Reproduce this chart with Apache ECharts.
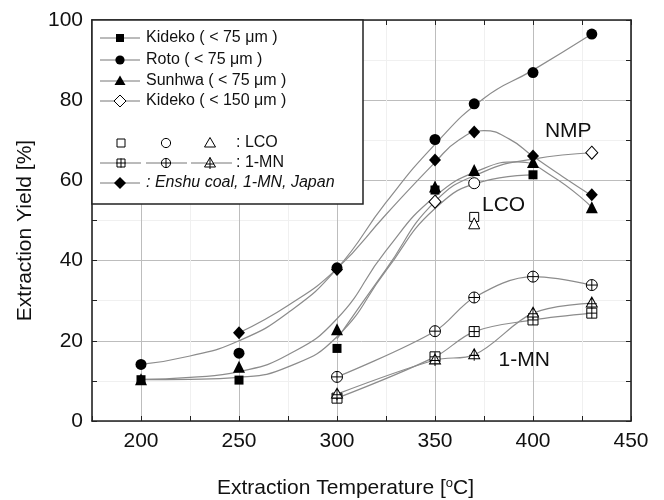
<!DOCTYPE html>
<html>
<head>
<meta charset="utf-8">
<script src="https://cdn.jsdelivr.net/npm/echarts@6.0.0/dist/echarts.min.js"></script>
<style>
  html, body { margin: 0; padding: 0; background: #fff; }
  #chart { width: 664px; height: 500px; }
</style>
</head>
<body>
<div id="chart"></div>
<script>
// ---- measured yields [temperature °C, yield %] ----
const kideko75  = [[200, 10.3], [250, 10.2], [300, 18.1], [350, 57.6], [400, 61.4]];
const roto75    = [[200, 14.1], [250, 16.9], [300, 38.2], [350, 70.2], [370, 79.1], [400, 86.9], [430, 96.5]];
const sunhwa75  = [[200, 10.4], [250, 13.5], [300, 22.9], [350, 58.5], [370, 62.6], [400, 64.6], [430, 53.3]];
const kideko150 = [[350, 54.7], [430, 66.9]];
const enshu     = [[250, 22.0], [300, 37.8], [350, 65.1], [370, 72.1], [400, 66.1], [430, 56.4]];

// LCO solvent (open symbols)
const lcoKideko = [[370, 50.9]];
const lcoRoto   = [[370, 59.3]];
const lcoSunhwa = [[370, 49.3]];

// 1-MN solvent (crossed symbols)
const mnKideko = [[300, 5.7], [350, 16.0], [370, 22.3], [400, 25.2], [430, 26.9]];
const mnRoto   = [[300, 11.0], [350, 22.4], [370, 30.8], [400, 36.0], [430, 33.9]];
const mnSunhwa = [[300, 6.7], [350, 15.2], [370, 16.5], [400, 26.9], [430, 29.4]];

// ---- fitted trend curves (NMP) ----
const fitRoto      = [[200, 14.1], [225, 16.2], [250, 20.0], [275, 27.0], [300, 38.0], [325, 54.5], [350, 69.0], [375, 80.5], [400, 87.5], [430, 96.5]];
const fitEnshu     = [[250, 22.0], [275, 28.8], [300, 38.0], [325, 51.5], [350, 64.5], [362, 70.0], [375, 72.4], [388, 70.3], [400, 66.0], [415, 61.0], [430, 56.2]];
const fitSunhwa    = [[200, 10.4], [225, 10.9], [250, 12.3], [275, 16.5], [300, 25.5], [325, 42.5], [350, 56.0], [375, 63.0], [392, 64.6], [410, 61.0], [430, 53.3]];
const fitKideko75  = [[200, 10.3], [225, 10.4], [250, 10.9], [275, 13.5], [300, 21.0], [325, 37.5], [350, 53.0], [375, 59.8], [400, 61.4]];
const fitKideko150 = [[300, 20.5], [325, 37.8], [350, 54.7], [375, 62.2], [400, 65.3], [430, 66.9]];

// ---- axis ticks ----
const xTicks = [200, 250, 300, 350, 400, 450];
const yTicks = [0, 20, 40, 60, 80, 100];

// ---- in-plot labels [temperature, yield, text] ----
const notes = [[418, 72.3, 'NMP'], [385, 53.9, 'LCO'], [395.5, 15.2, '1-MN']];

const FONT = '"Liberation Sans", Arial, sans-serif';
const INK = '#000';
const CURVE = '#8c8c8c';

const SQ_PLUS   = 'path://M0,0L10,0L10,10L0,10Z M5,0L5,10 M0,5L10,5';
const CIRC_PLUS = 'path://M10,5A5,5,0,1,1,0,5A5,5,0,1,1,10,5Z M5,0L5,10 M0,5L10,5';
const TRI_PLUS  = 'path://M5,0L10,9L0,9Z M5,0L5,11 M0.5,6L9.5,6';

function points(name, data, symbol, size, hollow) {
  return {
    name, type: 'scatter', data, symbol, symbolSize: size, z: 6, silent: true,
    itemStyle: hollow ? { color: '#fff', borderColor: INK, borderWidth: 1, opacity: 1 } : { color: INK, opacity: 1 }
  };
}
function curve(name, data) {
  return {
    name, type: 'line', data, smooth: 0.5, showSymbol: false, symbol: 'none', z: 3, silent: true,
    lineStyle: { color: CURVE, width: 1.2 }
  };
}
function mnSeries(name, data, symbol, size) {
  return {
    name, type: 'line', data, smooth: 0.35, symbol, symbolSize: size, showSymbol: true, z: 4, silent: true,
    lineStyle: { color: CURVE, width: 1.2 },
    itemStyle: { color: '#fff', borderColor: INK, borderWidth: 1, opacity: 1 }
  };
}

// ---- legend drawn as graphics ----
function gSym(kind, cx, cy, hollow) {
  const style = hollow ? { fill: '#fff', stroke: INK, lineWidth: 1 } : { fill: INK };
  const els = [];
  if (kind === 'square') els.push({ type: 'rect', shape: { x: cx - 4, y: cy - 4, width: 8, height: 8 }, style });
  if (kind === 'circle') els.push({ type: 'circle', shape: { cx, cy, r: 4.6 }, style });
  if (kind === 'triangle') els.push({ type: 'polygon', shape: { points: [[cx, cy - 5.5], [cx + 5.5, cy + 4], [cx - 5.5, cy + 4]] }, style });
  if (kind === 'diamond') els.push({ type: 'polygon', shape: { points: [[cx, cy - 6], [cx + 6, cy], [cx, cy + 6], [cx - 6, cy]] }, style });
  return els;
}
function gCross(kind, cx, cy) {
  const els = gSym(kind, cx, cy, true);
  const s = { stroke: INK, lineWidth: 1 };
  if (kind === 'triangle') {
    els.push({ type: 'line', shape: { x1: cx, y1: cy - 5.5, x2: cx, y2: cy + 6 }, style: s });
    els.push({ type: 'line', shape: { x1: cx - 4, y1: cy + 1, x2: cx + 4, y2: cy + 1 }, style: s });
  } else {
    els.push({ type: 'line', shape: { x1: cx, y1: cy - 4.6, x2: cx, y2: cy + 4.6 }, style: s });
    els.push({ type: 'line', shape: { x1: cx - 4.6, y1: cy, x2: cx + 4.6, y2: cy }, style: s });
  }
  return els;
}
function gLine(x1, x2, y) {
  return { type: 'line', shape: { x1, y1: y, x2, y2: y }, style: { stroke: '#777', lineWidth: 1 } };
}
function gText(x, y, text, italic) {
  return { type: 'text', x, y, style: { text, font: (italic ? 'italic ' : '') + '16px ' + FONT, fill: '#111', verticalAlign: 'middle' } };
}

const legendEls = [
  { type: 'rect', shape: { x: 92, y: 20, width: 271, height: 184 }, style: { fill: '#fff', stroke: '#222', lineWidth: 1.5 } },
  gLine(100, 140, 38), ...gSym('square', 120, 38), gText(146, 38, 'Kideko ( < 75 μm )'),
  gLine(100, 140, 60), ...gSym('circle', 120, 60), gText(146, 60, 'Roto ( < 75 μm )'),
  gLine(100, 140, 81), ...gSym('triangle', 120, 81), gText(146, 81, 'Sunhwa ( < 75 μm )'),
  gLine(100, 140, 101), ...gSym('diamond', 120, 101, true), gText(146, 101, 'Kideko ( < 150 μm )'),
  ...gSym('square', 121, 143, true), ...gSym('circle', 166, 143, true), ...gSym('triangle', 210, 143, true),
  gText(236, 143, ': LCO'),
  gLine(100, 141, 163), gLine(146, 187, 163), gLine(191, 232, 163),
  ...gCross('square', 121, 163), ...gCross('circle', 166, 163), ...gCross('triangle', 210, 163),
  gText(236, 163, ': 1-MN'),
  gLine(100, 140, 183), ...gSym('diamond', 120, 183), gText(146, 183, ': Enshu coal, 1-MN, Japan', true)
];

const axisCommon = {
  axisLine: { show: true, onZero: false, lineStyle: { color: '#222', width: 1.6 } },
  axisTick: { show: true, inside: true, length: 5, lineStyle: { color: '#222', width: 1 } }
};

const option = {
  animation: false,
  backgroundColor: '#fff',
  textStyle: { fontFamily: FONT },
  grid: { left: 92, right: 33, top: 20, bottom: 79, outerBoundsMode: 'none', containLabel: false },
  xAxis: [
    Object.assign({
      type: 'value', min: 175, max: 450, interval: 25, position: 'bottom',
      name: 'Extraction Temperature [{sup|o}C]', nameLocation: 'middle', nameGap: 56,
      nameTextStyle: { fontSize: 21, color: '#111', fontFamily: FONT, padding: [0, 32, 0, 0],
        rich: { sup: { fontSize: 13, verticalAlign: 'top', padding: [0, 0, 9, 0], fontFamily: FONT, color: '#111' } } },
      axisLabel: { fontSize: 21, color: '#111', margin: 10, fontFamily: FONT,
        formatter: v => (xTicks.includes(v) ? String(v) : '') },
      splitLine: { show: true, lineStyle: { color: ['#f0f0f0', '#bdbdbd'], width: 1 } }
    }, axisCommon),
    Object.assign({
      type: 'value', min: 175, max: 450, interval: 25, position: 'top',
      axisLabel: { show: false }, splitLine: { show: false }
    }, axisCommon)
  ],
  yAxis: [
    Object.assign({
      type: 'value', min: 0, max: 100, interval: 10, position: 'left',
      name: 'Extraction Yield [%]', nameLocation: 'middle', nameGap: 56, nameRotate: 90,
      nameTextStyle: { fontSize: 21, color: '#111', fontFamily: FONT, padding: [0, 20, 0, 0] },
      axisLabel: { fontSize: 21, color: '#111', margin: 9, fontFamily: FONT,
        formatter: v => (yTicks.includes(v) ? String(v) : '') },
      splitLine: { show: true, lineStyle: { color: ['#bdbdbd', '#f0f0f0'], width: 1 } }
    }, axisCommon),
    Object.assign({
      type: 'value', min: 0, max: 100, interval: 10, position: 'right',
      axisLabel: { show: false }, splitLine: { show: false }
    }, axisCommon)
  ],
  graphic: { elements: legendEls.map(e => Object.assign({ z: 100 }, e)) },
  series: [
    curve('Roto fit', fitRoto),
    curve('Enshu fit', fitEnshu),
    curve('Sunhwa fit', fitSunhwa),
    curve('Kideko75 fit', fitKideko75),
    curve('Kideko150 fit', fitKideko150),
    mnSeries('Kideko 1-MN', mnKideko, SQ_PLUS, [10, 10]),
    mnSeries('Roto 1-MN', mnRoto, CIRC_PLUS, [11, 11]),
    mnSeries('Sunhwa 1-MN', mnSunhwa, TRI_PLUS, [11, 12]),
    points('Kideko ( < 75 μm )', kideko75, 'rect', 9),
    points('Roto ( < 75 μm )', roto75, 'circle', 11),
    points('Sunhwa ( < 75 μm )', sunhwa75, 'triangle', 12),
    points('Kideko ( < 150 μm )', kideko150, 'diamond', [12, 13], true),
    points('Enshu coal, 1-MN, Japan', enshu, 'diamond', [12, 13]),
    points('Kideko LCO', lcoKideko, 'rect', 9, true),
    points('Roto LCO', lcoRoto, 'circle', 11, true),
    points('Sunhwa LCO', lcoSunhwa, 'triangle', 11, true),
    {
      name: 'notes', type: 'scatter', symbolSize: 0, z: 7, silent: true,
      itemStyle: { opacity: 1 },
      data: notes.map(n => ({ value: [n[0], n[1]], name: n[2] })),
      label: { show: true, position: 'inside', formatter: '{b}', fontSize: 21, color: '#111', fontFamily: FONT, opacity: 1 }
    }
  ]
};

const chart = echarts.init(document.getElementById('chart'), null, { renderer: 'canvas' });
chart.setOption(option);
</script>
</body>
</html>
